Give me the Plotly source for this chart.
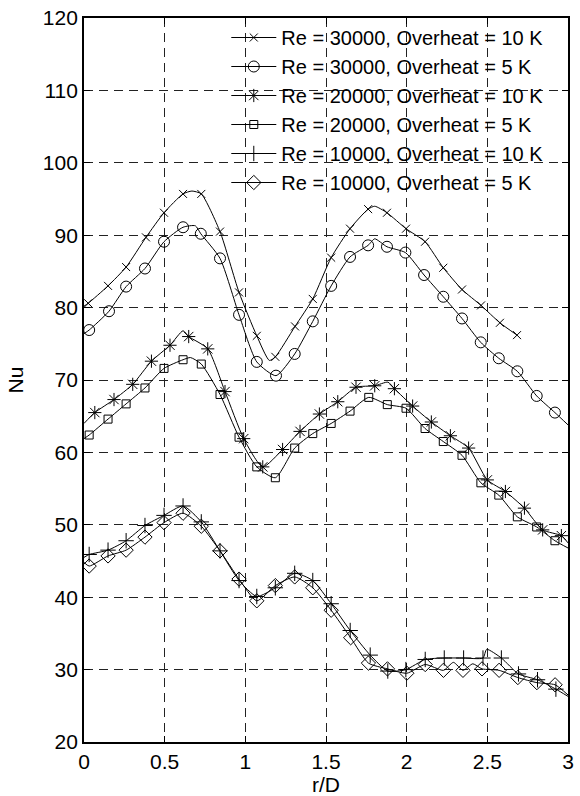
import plotly.graph_objects as go

# Radial Nusselt number profiles, jet impingement, six test cases
labels = [
    "Re = 30000, Overheat = 10 K",
    "Re = 30000, Overheat = 5 K",
    "Re = 20000, Overheat = 10 K",
    "Re = 20000, Overheat = 5 K",
    "Re = 10000, Overheat = 10 K",
    "Re = 10000, Overheat = 5 K",
]
symbols = ["x-thin-open", "circle-open", "asterisk-open",
           "square-open", "cross-thin-open", "diamond-open"]
marker_sizes = [8, 11, 11, 8, 11, 11]

# marker samples (r/D, Nu)
r_re30_10 = [0.026, 0.149, 0.261, 0.384, 0.496, 0.614, 0.727, 0.843, 0.961, 1.071, 1.186,
             1.308, 1.418, 1.532, 1.649, 1.761, 1.878, 1.996, 2.114, 2.227, 2.343, 2.461,
             2.578, 2.684]
nu_re30_10 = [80.6, 83.0, 85.6, 89.7, 93.1, 95.7, 95.7, 90.5, 82.1, 76.1, 73.2,
              77.4, 81.2, 86.9, 90.9, 93.6, 93.1, 90.9, 89.1, 85.5, 82.5, 80.3,
              77.9, 76.2]

r_re30_5 = [0.032, 0.155, 0.261, 0.378, 0.496, 0.614, 0.724, 0.843, 0.961, 1.071, 1.190,
            1.306, 1.418, 1.532, 1.649, 1.761, 1.878, 1.992, 2.108, 2.227, 2.343, 2.459,
            2.571, 2.686, 2.806, 2.919]
nu_re30_5 = [76.9, 79.5, 82.9, 85.4, 89.1, 91.1, 90.2, 86.8, 79.0, 72.5, 70.6,
             73.6, 78.1, 83.0, 87.0, 88.6, 88.4, 87.6, 84.5, 81.5, 78.5, 75.2,
             73.0, 71.2, 67.8, 65.5]

r_re20_10 = [0.067, 0.186, 0.302, 0.418, 0.533, 0.649, 0.767, 0.874, 0.990, 1.108, 1.231,
             1.339, 1.459, 1.573, 1.686, 1.802, 1.924, 2.037, 2.153, 2.271, 2.384, 2.500,
             2.612, 2.730, 2.843, 2.959]
nu_re20_10 = [65.5, 67.3, 69.4, 72.6, 74.8, 76.0, 74.3, 68.4, 61.9, 58.0, 60.4,
              62.9, 65.3, 67.0, 69.0, 69.2, 68.8, 66.4, 64.2, 62.3, 60.6, 56.2,
              54.6, 52.3, 49.3, 48.5]

r_re20_5 = [0.032, 0.149, 0.261, 0.378, 0.496, 0.614, 0.727, 0.843, 0.961, 1.071, 1.186,
            1.306, 1.418, 1.532, 1.649, 1.765, 1.880, 1.996, 2.114, 2.227, 2.343, 2.460,
            2.571, 2.686, 2.806, 2.919]
nu_re20_5 = [62.4, 64.6, 66.7, 68.9, 71.6, 72.8, 72.2, 68.0, 62.1, 58.0, 56.5,
             60.6, 62.6, 64.0, 65.7, 67.6, 66.6, 66.1, 63.3, 61.5, 59.6, 55.8,
             54.1, 51.1, 49.7, 47.8]

r_re10_10 = [0.032, 0.149, 0.261, 0.378, 0.496, 0.614, 0.727, 0.843, 0.961, 1.071, 1.186,
             1.306, 1.418, 1.532, 1.650, 1.774, 1.883, 1.995, 2.115, 2.233, 2.353, 2.473,
             2.587, 2.693, 2.811, 2.925]
nu_re10_10 = [45.9, 46.5, 47.8, 49.9, 51.3, 52.6, 50.4, 46.4, 42.3, 40.1, 41.3,
              43.3, 42.3, 39.1, 35.4, 32.0, 29.8, 30.0, 31.4, 31.6, 31.6, 31.6,
              31.6, 29.4, 28.6, 27.3]

r_re10_5 = [0.032, 0.149, 0.261, 0.378, 0.496, 0.614, 0.727, 0.843, 0.961, 1.071, 1.186,
            1.306, 1.418, 1.532, 1.653, 1.763, 1.881, 2.001, 2.115, 2.228, 2.349, 2.467,
            2.573, 2.689, 2.807, 2.920]
nu_re10_5 = [44.3, 45.7, 46.5, 48.3, 50.3, 51.6, 49.8, 46.4, 42.5, 39.5, 41.6,
             42.8, 41.3, 38.2, 34.4, 30.9, 30.1, 29.5, 30.7, 29.9, 29.9, 30.1,
             29.9, 28.9, 28.2, 27.9]

# additional line-only vertices between the marked samples
r_extra_re30_10 = [0.0, 0.669, 1.149, 1.802]
nu_extra_re30_10 = [80.2, 96.1, 72.7, 94.0]
r_extra_re30_5 = [0.0, 0.69, 1.802, 3.0]
nu_extra_re30_5 = [76.4, 91.3, 89.5, 63.8]
r_extra_re20_10 = [0.0, 0.614, 1.884, 3.0]
nu_extra_re20_10 = [64.0, 76.8, 69.7, 47.5]
r_extra_re20_5 = [0.0, 0.66, 3.0]
nu_extra_re20_5 = [61.9, 73.1, 46.8]
r_extra_re10_10 = [0.0, 2.496, 3.0]
nu_extra_re10_10 = [45.5, 32.8, 26.3]
r_extra_re10_5 = [0.0, 2.29, 2.41, 3.0]
nu_extra_re10_5 = [44.8, 31.0, 30.8, 26.5]

series = [
    (r_re30_10, nu_re30_10, r_extra_re30_10, nu_extra_re30_10),
    (r_re30_5, nu_re30_5, r_extra_re30_5, nu_extra_re30_5),
    (r_re20_10, nu_re20_10, r_extra_re20_10, nu_extra_re20_10),
    (r_re20_5, nu_re20_5, r_extra_re20_5, nu_extra_re20_5),
    (r_re10_10, nu_re10_10, r_extra_re10_10, nu_extra_re10_10),
    (r_re10_5, nu_re10_5, r_extra_re10_5, nu_extra_re10_5),
]

x_ticks = [0, 0.5, 1, 1.5, 2, 2.5, 3]
x_tick_text = ["0", "0.5", "1", "1.5", "2", "2.5", "3"]
y_ticks = [20, 30, 40, 50, 60, 70, 80, 90, 100, 110, 120]

FONT = "Liberation Sans, Arial, Helvetica, sans-serif"
FS = 21
fig = go.Figure()

for i, (rm, nm, rx, nx) in enumerate(series):
    pts = sorted(zip(list(rm) + list(rx), list(nm) + list(nx)))
    fig.add_trace(go.Scatter(
        x=[p[0] for p in pts], y=[p[1] for p in pts], mode="lines",
        line=dict(color="black", width=1, shape="spline", smoothing=0.6),
        showlegend=False, hoverinfo="skip",
    ))
    fig.add_trace(go.Scatter(
        x=rm, y=nm, mode="markers",
        marker=dict(symbol=symbols[i], size=marker_sizes[i], color="black",
                    line=dict(color="black", width=1)),
        showlegend=False,
    ))
    # legend key: line with marker
    fig.add_trace(go.Scatter(
        x=[None], y=[None], mode="lines+markers", name=labels[i],
        legendgroup=f"g{i}",
        line=dict(color="black", width=1),
        marker=dict(symbol=symbols[i], size=marker_sizes[i], color="black",
                    line=dict(color="black", width=1)),
    ))

axis_common = dict(
    showline=True, linecolor="black", linewidth=1.8, mirror="ticks",
    ticks="inside", ticklen=6, tickcolor="black", tickwidth=1,
    showgrid=True, gridcolor="#222222", gridwidth=1, griddash="9px,6px",
    zeroline=False,
    tickfont=dict(family=FONT, size=FS, color="black"),
)

fig.update_xaxes(
    range=[0, 3], tickvals=x_ticks, ticktext=x_tick_text,
    title=dict(text="r/D", font=dict(family=FONT, size=FS, color="black"), standoff=2),
    **axis_common,
)
fig.update_yaxes(
    range=[20, 120], tickvals=y_ticks,
    title=dict(text="Nu", font=dict(family=FONT, size=FS, color="black"), standoff=14),
    **axis_common,
)

fig.update_layout(
    width=580, height=796,
    margin=dict(l=84, r=6, t=14, b=54),
    paper_bgcolor="white", plot_bgcolor="white",
    font=dict(family=FONT, size=FS, color="black"),
    legend=dict(
        x=0.294, y=1.0, xanchor="left", yanchor="top",
        bgcolor="rgba(0,0,0,0)", borderwidth=0,
        font=dict(family=FONT, size=20, color="black"),
        traceorder="grouped", tracegroupgap=0,
        itemwidth=45,
    ),
)

fig.write_html("out.html")
